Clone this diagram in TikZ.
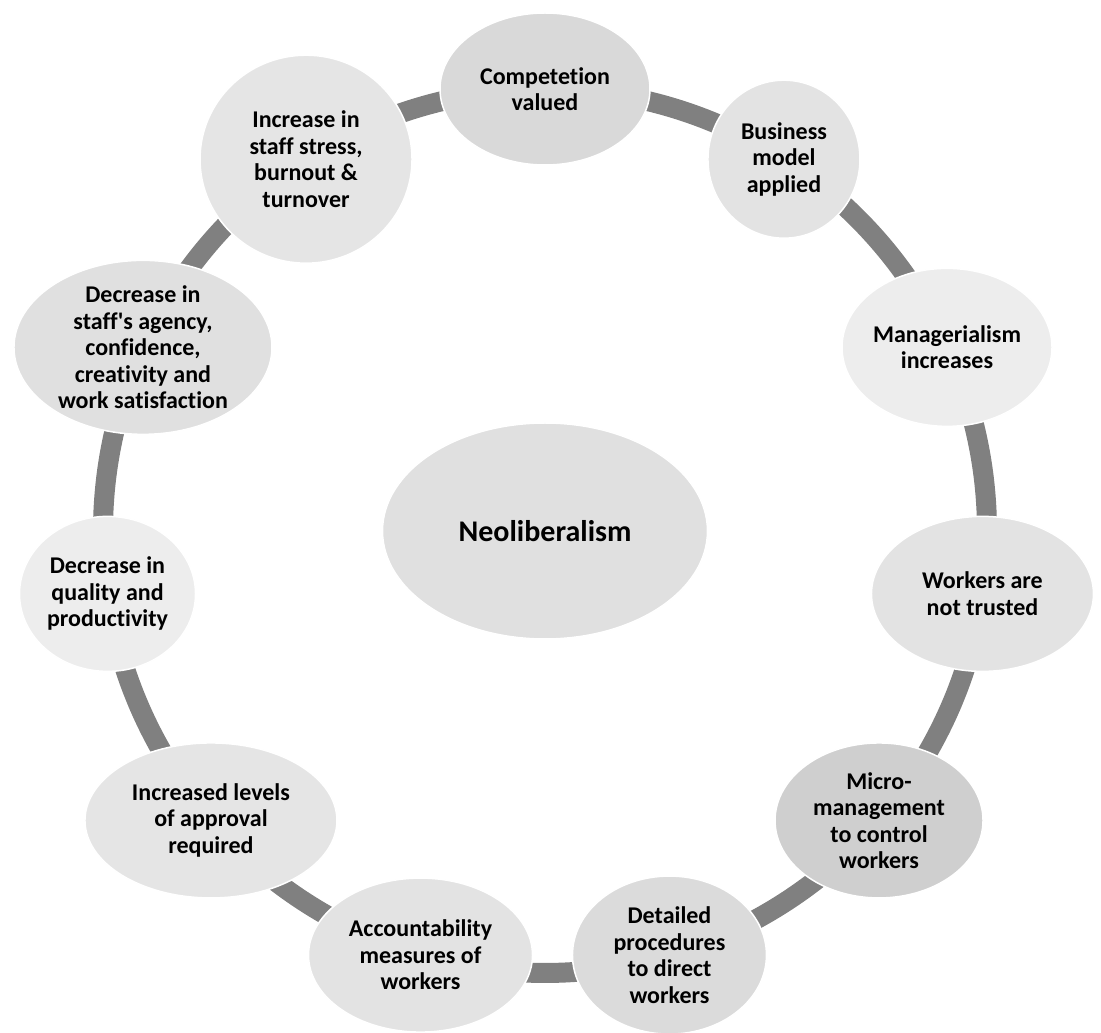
\documentclass[tikz,border=0pt]{standalone}
\usepackage{fontspec}
\setmainfont{Carlito}[Ligatures=NoCommon]
\usetikzlibrary{shapes.geometric,backgrounds}

\definecolor{ringgray}{HTML}{808080}

\begin{document}
\begin{tikzpicture}
[x=1pt, y=1pt,
    stage/.style={ellipse, draw=white, line width=1.5pt, inner sep=0pt,
    align=center, text=black, font=\bfseries\fontsize{24}{26.5}\selectfont},
    link/.style={draw=ringgray, line width=20pt, bend left=16.4, looseness=0.87},
    ]
    \useasboundingbox (-545,-502) rectangle (556,531);

    \node[stage, fill=black!12, minimum width=325pt, minimum height=216pt,
        font=\bfseries\fontsize{30}{34}\selectfont] (neo) at (0,0) {Neoliberalism};

    \node[stage, fill=black!15, minimum width=210pt, minimum height=152pt] (comp) at (90:442) {Competetion\\valued};
    \node[stage, fill=black!11, minimum width=152pt, minimum height=158pt] (business) at (57.27:442) {Business\\model\\applied};
    \node[stage, fill=black!7, minimum width=210pt, minimum height=158pt] (manager) at (24.55:442) {Managerialism\\increases};
    \node[stage, fill=black!11, minimum width=222pt, minimum height=155pt] (trust) at (-8.18:442) {Workers are\\not trusted};
    \node[stage, fill=black!19, minimum width=208pt, minimum height=155pt] (micro) at (-40.91:442) {Micro-\\management\\to control\\workers};
    \node[stage, fill=black!14, minimum width=194pt, minimum height=158pt] (detail) at (-73.64:442) {Detailed\\procedures\\to direct\\workers};
    \node[stage, fill=black!11, minimum width=224pt, minimum height=154pt] (account) at (-106.36:442) {Accountability\\measures of\\workers};
    \node[stage, fill=black!10, minimum width=252pt, minimum height=155pt] (approval) at (-139.09:442) {Increased levels\\of approval\\required};
    \node[stage, fill=black!7, minimum width=176pt, minimum height=155pt] (quality) at (-171.82:442) {Decrease in\\quality and\\productivity};
    \node[stage, fill=black!12, minimum width=258pt, minimum height=168pt] (agency) at (155.45:442) {Decrease in\\staff\textquotesingle s agency,\\confidence,\\creativity and\\work satisfaction};
    \node[stage, fill=black!10, minimum width=212pt, minimum height=208pt] (stress) at (122.73:442) {Increase in\\staff stress,\\burnout \&\\turnover};

    \begin{scope}[on background layer]
    \draw[link] (comp.center) to (business.center);
    \draw[link] (business.center) to (manager.center);
    \draw[link] (manager.center) to (trust.center);
    \draw[link] (trust.center) to (micro.center);
    \draw[link] (micro.center) to (detail.center);
    \draw[link] (detail.center) to (account.center);
    \draw[link] (account.center) to (approval.center);
    \draw[link] (approval.center) to (quality.center);
    \draw[link] (quality.center) to (agency.center);
    \draw[link] (agency.center) to (stress.center);
    \draw[link] (stress.center) to (comp.center);
    \end{scope}

\end{tikzpicture}
\end{document}
